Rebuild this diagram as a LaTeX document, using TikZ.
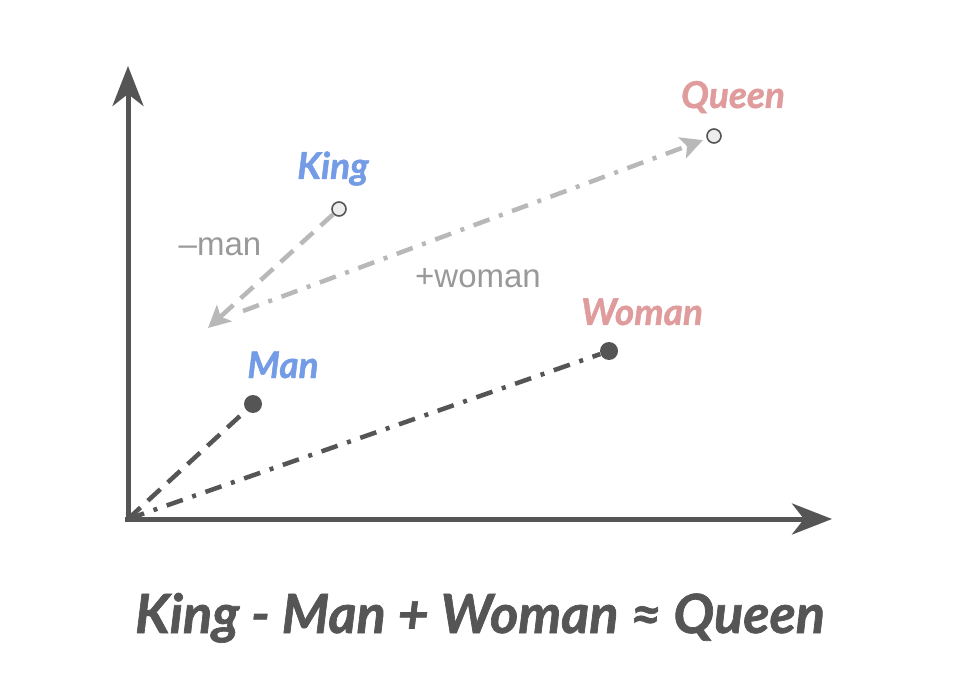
\documentclass[tikz,border=0pt]{standalone}
\usepackage{fontspec}
\setmainfont{Liberation Sans}
\newfontfamily\wordfont{Lato}[BoldItalicFeatures={FakeBold=1.3}]
\usetikzlibrary{arrows.meta}
\definecolor{axisgray}{HTML}{555555}
\definecolor{shiftgray}{HTML}{B8B8B8}
\definecolor{textgray}{HTML}{999999}
\definecolor{maleblue}{HTML}{739BE6}
\definecolor{femalepink}{HTML}{E09C9C}
\tikzset{
  axis/.style={line width=5pt, color=axisgray, -{Stealth[length=40pt,width=31pt,inset=12pt]}},
  fulldot/.style={circle, fill=axisgray, inner sep=0pt, minimum size=18pt},
  opendot/.style={circle, draw=axisgray, fill=black!7, line width=1.6pt, inner sep=0pt, minimum size=14pt},
  word/.style={anchor=base, font=\wordfont\bfseries\itshape\fontsize{37}{37}\selectfont},
  shifttext/.style={anchor=base, textgray, font=\fontsize{33}{33}\selectfont},
  dashline/.style={line width=4.5pt, dash pattern=on 17pt off 10pt},
  dotline/.style={line width=4.5pt, dash pattern=on 17pt off 10pt on 4pt off 10pt},
  shiftarrow/.style={color=shiftgray, -{Stealth[length=22pt,width=22pt,inset=5pt]}}
}
\begin{document}
\begin{tikzpicture}[x=1pt,y=-1pt]
  \useasboundingbox (0,0) rectangle (958,692);
  % Draw axes
  \coordinate (origin) at (128,519);
  \draw[axis] (128,522) -- (128,66);
  \draw[axis] (125,519) -- (832,519);
  % Draw word points
  \node[fulldot] (man) at (253,404) {};
  \node[fulldot] (woman) at (609,351) {};
  \node[opendot] (king) at (339,209) {};
  \node[opendot] (queen) at (714,136) {};
  % Draw vectors from the origin
  \draw[axisgray, dashline] (origin) -- (man);
  \draw[axisgray, dotline] (origin) -- (woman);
  % Draw king - man + woman
  \coordinate (kingminus) at (208,328);
  \coordinate (womanstart) at (243,311);
  \draw[shiftarrow, dashline] (king) -- (kingminus);
  \draw[shiftarrow, dotline, shorten >=4pt] (womanstart) -- (queen);
  % Labels
  \node[word, maleblue] (kinglabel) at (333,179) {King};
  \node[word, maleblue] (manlabel) at (283,378) {Man};
  \node[word, femalepink] (womanlabel) at (642,325) {Woman};
  \node[word, femalepink] (queenlabel) at (733,108) {Queen};
  \node[shifttext] (minuslabel) at (220,256) {–man};
  \node[shifttext] (pluslabel) at (478,288) {+woman};
  % Equation
  \node[axisgray, anchor=base, font=\wordfont\bfseries\itshape\fontsize{54}{54}\selectfont] (equation) at (480,633) {King - Man + Woman ≈ Queen};
\end{tikzpicture}
\end{document}
